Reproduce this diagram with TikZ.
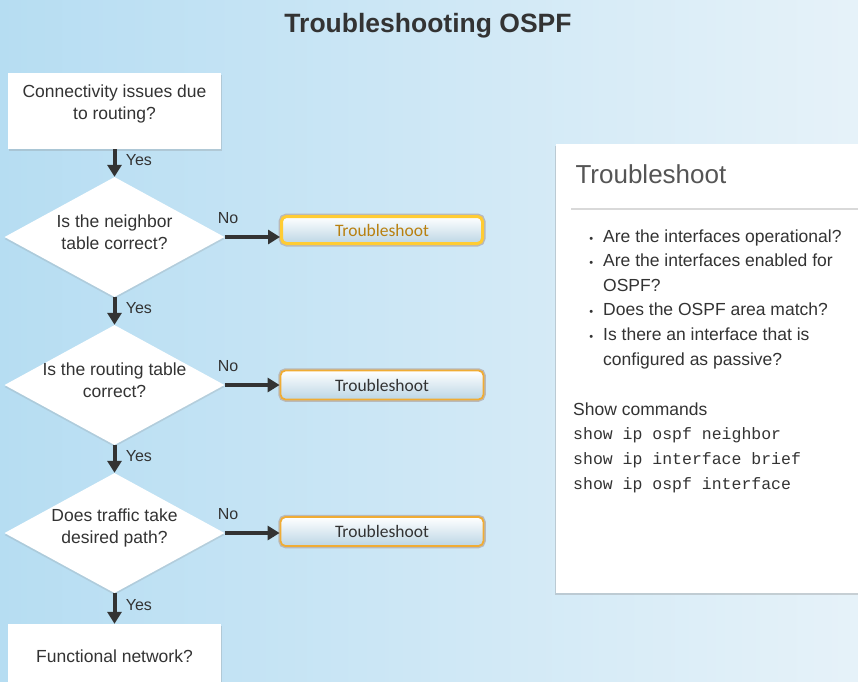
\documentclass[tikz,border=0pt]{standalone}
\usepackage{fontspec}
\setmainfont{Liberation Sans}
\setmonofont{Liberation Mono}
\newfontfamily\btnfont{Carlito}
\usepackage{tikz}
\usetikzlibrary{positioning}
\usetikzlibrary{shapes.geometric}
\usetikzlibrary{arrows.meta}
\usetikzlibrary{shadows}
\definecolor{ink}{HTML}{333333}
\definecolor{bgleft}{RGB}{182,221,242}
\definecolor{bgmid}{RGB}{204,231,246}
\definecolor{bgright}{RGB}{230,242,249}
\definecolor{btnlow}{RGB}{188,214,229}
\definecolor{glow}{RGB}{255,204,51}
\definecolor{amber}{RGB}{240,172,52}
\definecolor{golden}{RGB}{184,128,16}
\definecolor{headgray}{RGB}{85,85,85}
\tikzset{node distance=148pt,
      every node/.style={text=ink, font=\fontsize{17.5}{22}\selectfont},
      qbox/.style={rectangle, fill=white, minimum width=213pt, minimum height=76pt,
        align=center, drop shadow={opacity=0.25, shadow xshift=0.5pt, shadow yshift=-1.5pt}},
      decision/.style={diamond, fill=white, aspect=1.83, minimum width=220pt,
        minimum height=120pt, inner sep=0pt,
        drop shadow={opacity=0.2, shadow xshift=0pt, shadow yshift=-2pt}},
      qtext/.style={align=center, yshift=5pt},
      fixbtn/.style={rectangle, rounded corners=5pt, minimum width=203pt, minimum height=29pt,
        draw=amber, line width=1.8pt, top color=white, bottom color=btnlow,
        preaction={draw=gray!55, line width=4.5pt},
        font=\btnfont\fontsize{17.5}{20}\selectfont},
      hot/.style={draw=glow, line width=3pt, minimum width=201pt, minimum height=27pt,
        preaction={draw=gray!55, line width=6pt}, text=golden},
      flow/.style={draw=ink, line width=4pt, -{Triangle[length=12pt,width=14pt]}},
      yes/.style={midway, right, xshift=6pt, yshift=3pt, font=\fontsize{16}{18}\selectfont},
      no/.style={pos=0.06, yshift=19pt, font=\fontsize{16}{18}\selectfont}}

\begin{document}
\begin{tikzpicture}[x=1pt, y=-1pt]
  \clip (0,0) rectangle (858,681);
  \fill[left color=bgleft, middle color=bgmid, right color=bgright] (0,0) rectangle (858,681);
  \node[anchor=base, font=\bfseries\fontsize{26.5}{30}\selectfont] (title) at (428,32) {Troubleshooting OSPF};

  \node[qbox, text depth=17pt] (start) at (114.5,111) {Connectivity issues due\\to routing?};
  \node[decision, node distance=126pt, below of=start,
    label={[qtext]center:{Is the neighbor\\table correct?}}] (q1) {};
  \node[decision, below of=q1,
    label={[qtext]center:{Is the routing table\\correct?}}] (q2) {};
  \node[decision, below of=q2,
    label={[qtext]center:{Does traffic take\\desired path?}}] (q3) {};
  \node[qbox, text depth=11pt, node distance=129pt, below of=q3] (done) {Functional network?};

  \node[fixbtn, hot, node distance=267.5pt, right of=q1, yshift=7pt] (fix1) {Troubleshoot};
  \node[fixbtn, node distance=267.5pt, right of=q2] (fix2) {Troubleshoot};
  \node[fixbtn, node distance=267.5pt, right of=q3, yshift=1.5pt] (fix3) {Troubleshoot};

  \draw[flow] (start) -- (q1) node[yes] {Yes};
  \draw[flow] (q1) -- (q2) node[yes] {Yes};
  \draw[flow] (q2) -- (q3) node[yes] {Yes};
  \draw[flow] (q3) -- (done) node[yes] {Yes};
  \draw[flow] (q1.east) -- (q1.east -| fix1.west) node[no] {No};
  \draw[flow] (q2.east) -- (q2.east -| fix2.west) node[no] {No};
  \draw[flow] (q3.east) -- (q3.east -| fix3.west) node[no] {No};

  \fill[white, drop shadow={opacity=0.3, shadow xshift=-1pt, shadow yshift=-2pt}]
    (556,144) rectangle (880,593);
  \node[anchor=base west, text=headgray, font=\fontsize{26}{30}\selectfont] (head) at (572,183) {Troubleshoot};
  \draw[gray!30, line width=1.2pt] (571,209) -- (858,209);
  \node[anchor=base west, align=left, inner sep=0pt, font=\fontsize{17.5}{24.6}\selectfont] (checks) at (603,365)
    {\llap{{\fontsize{11}{11}\selectfont\textbullet}\hspace{10pt}}Are the interfaces operational?\\
     \llap{{\fontsize{11}{11}\selectfont\textbullet}\hspace{10pt}}Are the interfaces enabled for\\
     OSPF?\\
     \llap{{\fontsize{11}{11}\selectfont\textbullet}\hspace{10pt}}Does the OSPF area match?\\
     \llap{{\fontsize{11}{11}\selectfont\textbullet}\hspace{10pt}}Is there an interface that is\\
     configured as passive?};
  \node[anchor=base west, align=left, inner sep=0pt, font=\fontsize{17.5}{24.6}\selectfont] (cmds) at (573,489)
    {Show commands\\
     {\ttfamily\fontsize{16.5}{24.6}\selectfont show ip ospf neighbor}\\
     {\ttfamily\fontsize{16.5}{24.6}\selectfont show ip interface brief}\\
     {\ttfamily\fontsize{16.5}{24.6}\selectfont show ip ospf interface}};
\end{tikzpicture}
\end{document}
